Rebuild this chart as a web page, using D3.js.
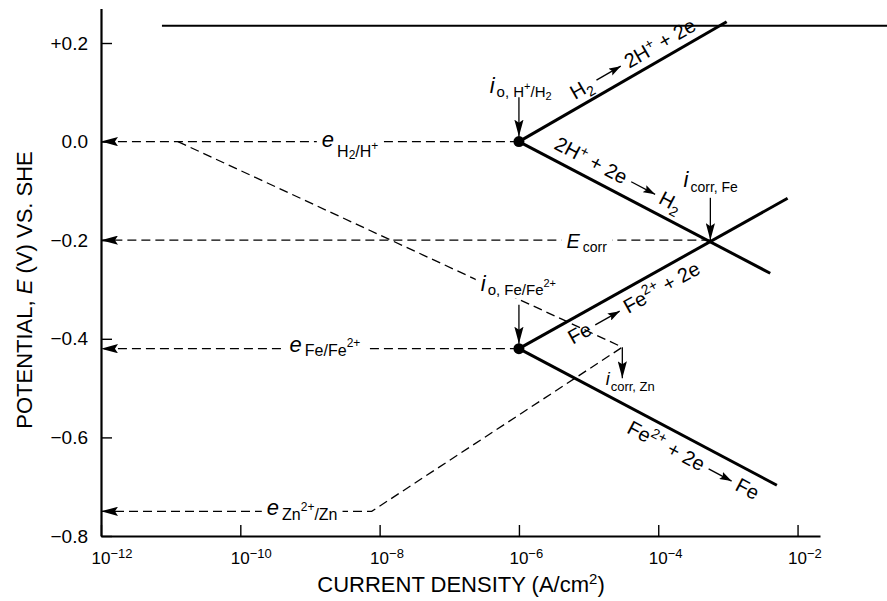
<!DOCTYPE html>
<html>
<head>
<meta charset="utf-8">
<script src="https://cdn.jsdelivr.net/npm/d3@7"></script>
<style>
  html, body { margin: 0; padding: 0; background: #fff; }
  svg { display: block; font-family: "Liberation Sans", Arial, Helvetica, sans-serif; }
  text { white-space: pre; }
</style>
</head>
<body>
<svg id="chart" width="887" height="601"></svg>
<script>
// ---- axis ticks ----
const currentTicks = [1e-12, 1e-10, 1e-8, 1e-6, 1e-4, 1e-2];
const currentTickExponents = ["\u221212", "\u221210", "\u22128", "\u22126", "\u22124", "\u22122"];
const potentialTicks = [0.2, 0.0, -0.2, -0.4, -0.6, -0.8];
const potentialTickLabels = ["+0.2", "0.0", "\u22120.2", "\u22120.4", "\u22120.6", "\u22120.8"];

// ---- Tafel lines on iron: [current density (A/cm²), potential (V vs SHE)] ----
const h2OxidationOnFe = [[1e-6, 0.0], [9.6e-4, 0.243]];
const hReductionOnFe  = [[1e-6, 0.0], [4.05e-3, -0.267]];
const feOxidation     = [[1e-6, -0.42], [7.2e-3, -0.115]];
const feReduction     = [[1e-6, -0.42], [5.05e-3, -0.697]];

// ---- dashed construction lines for zinc ----
const hReductionOnZn = [[1.27e-11, 0.0], [3.05e-5, -0.417]];
const znOxidation    = [[1e-12, -0.75], [7.7e-9, -0.75], [3.05e-5, -0.417]];

// exchange current densities (dots)
const exchangePoints = [[1e-6, 0.0], [1e-6, -0.42]];

// potentials carried back to the axis: [current where the level starts, potential]
const potentialLevels = [[1e-6, 0.0], [5.6e-4, -0.2], [1e-6, -0.42]];

// rule across the top of the figure
const topRule = [[7.5e-12, 0.235], [0.25, 0.235]];

// ---- scales ----
const x = d3.scaleLog().domain([1e-12, 2.1e-2]).range([101, 820]);
const y = d3.scaleLinear().domain([-0.8, 0.27]).range([536, 8.5]);
const FONT = '"Liberation Sans", Arial, Helvetica, sans-serif';

const svg = d3.select("#chart");
const defs = svg.append("defs");

function addMarker(id, len, half) {
  defs.append("marker")
    .attr("id", id)
    .attr("viewBox", `0 ${-half} ${len} ${2 * half}`)
    .attr("refX", len).attr("refY", 0)
    .attr("markerWidth", len).attr("markerHeight", 2 * half)
    .attr("markerUnits", "userSpaceOnUse")
    .attr("orient", "auto-start-reverse")
    .append("path")
    .attr("d", `M0,${-half}L${len},0L0,${half}L${len * 0.18},0Z`)
    .attr("fill", "#000");
}
addMarker("head", 17, 4.6);
addMarker("headSmall", 12, 4);

// text built from pieces: t = text, s = size, b = baseline shift, i = italic, dx = gap before
function rich(sel, parts) {
  const t = sel.append("text").attr("fill", "#000");
  let prev = 0;
  parts.forEach(p => {
    const b = p.b || 0;
    const ts = t.append("tspan").text(p.t).style("font-size", p.s + "px").attr("dy", b - prev);
    if (p.i) ts.style("font-style", "italic");
    if (p.dx) ts.attr("dx", p.dx);
    prev = b;
  });
  return t;
}

const line = d3.line().x(d => x(d[0])).y(d => y(d[1]));

// ---- top rule ----
svg.append("path").attr("d", line(topRule)).attr("stroke", "#000").attr("stroke-width", 2).attr("fill", "none");

// ---- axes ----
const gx = svg.append("g")
  .attr("transform", `translate(0,${y(-0.8)})`)
  .call(d3.axisBottom(x).tickValues(currentTicks).tickSize(-11).tickSizeOuter(0).tickFormat(""))
  .attr("font-family", FONT);
gx.select(".domain").attr("stroke-width", 2.2);
gx.selectAll(".tick line").attr("stroke-width", 1.4);
gx.selectAll(".tick text").remove();
gx.selectAll(".tick").each(function (d, i) {
  const t = d3.select(this).append("text")
    .attr("x", -10).attr("y", 28).attr("fill", "#000").attr("text-anchor", "start");
  t.append("tspan").style("font-size", "17px").text("10");
  t.append("tspan").attr("dy", -6).style("font-size", "13px").text(currentTickExponents[i]);
});

const gy = svg.append("g")
  .attr("transform", `translate(${x(1e-12)},0)`)
  .call(d3.axisLeft(y).tickValues(potentialTicks).tickSize(-11).tickSizeOuter(0).tickPadding(13)
    .tickFormat((d, i) => potentialTickLabels[i]))
  .attr("font-family", FONT).attr("font-size", 19);
gy.select(".domain").attr("stroke-width", 2.2);
gy.selectAll(".tick line").attr("stroke-width", 1.4);
gy.selectAll(".tick text").attr("fill", "#000");

// axis titles
const xt = svg.append("text").attr("x", 461).attr("y", 592).attr("text-anchor", "middle")
  .style("font-size", "22px").attr("fill", "#000");
xt.append("tspan").text("CURRENT DENSITY (A/cm");
xt.append("tspan").attr("dy", -8).style("font-size", "15px").text("2");
xt.append("tspan").attr("dy", 8).text(")");

const yt = svg.append("text").attr("transform", "translate(32,290) rotate(-90)")
  .attr("text-anchor", "middle").style("font-size", "22px").attr("fill", "#000");
yt.append("tspan").text("POTENTIAL, ");
yt.append("tspan").style("font-style", "italic").text("E");
yt.append("tspan").text(" (V) VS. SHE");

// ---- dashed lines ----
const dashed = sel => sel.attr("fill", "none").attr("stroke", "#000").attr("stroke-width", 1.3).attr("stroke-dasharray", "9,5");

potentialLevels.forEach(([i0, E]) => {
  svg.append("path").attr("d", line([[i0, E], [1e-12, E]])).call(dashed).attr("marker-end", "url(#head)");
});
svg.append("path").attr("d", line(znOxidation)).call(dashed).attr("marker-start", "url(#head)");
svg.append("path").attr("d", line(hReductionOnZn)).call(dashed);

// ---- labels on the dashed lines (with white backing) ----
const levelLabels = [
  { at: 1.48e-9, E: 0.0, dy: 5.5, parts: [{ t: "e", s: 22, i: 1 }, { t: "H", s: 16, b: 10, dx: 3 }, { t: "2", s: 12, b: 12 }, { t: "/H", s: 16, b: 10 }, { t: "+", s: 12, b: 3 }] },
  { at: 4.8e-6, E: -0.2, dy: 8, parts: [{ t: "E", s: 20, i: 1 }, { t: "corr", s: 14, b: 4, dx: 3 }] },
  { at: 5.1e-10, E: -0.42, dy: 3, parts: [{ t: "e", s: 22, i: 1 }, { t: "Fe/Fe", s: 16, b: 4, dx: 3 }, { t: "2+", s: 12, b: -5 }] },
  { at: 2.4e-10, E: -0.75, dy: 4, parts: [{ t: "e", s: 22, i: 1 }, { t: "Zn", s: 16, b: 5, dx: 3 }, { t: "2+", s: 12, b: -4 }, { t: "/Zn", s: 16, b: 5 }] }
];
const pointerLabels = [
  { at: 3.8e-7, E: 0.099, bg: true, parts: [{ t: "i", s: 22, i: 1 }, { t: "o, H", s: 15, b: 4, dx: 2 }, { t: "+", s: 11, b: -3 }, { t: "/H", s: 15, b: 4 }, { t: "2", s: 11, b: 7 }] },
  { at: 2.31e-4, E: -0.092, bg: true, parts: [{ t: "i", s: 22, i: 1 }, { t: "corr, Fe", s: 14, b: 5, dx: 2 }] },
  { at: 2.83e-7, E: -0.304, bg: true, parts: [{ t: "i", s: 22, i: 1 }, { t: "o, Fe/Fe", s: 15, b: 4, dx: 2 }, { t: "2+", s: 11, b: -4 }] },
  { at: 1.76e-5, E: -0.494, bg: false, parts: [{ t: "i", s: 18, i: 1 }, { t: "corr, Zn", s: 13, b: 6, dx: 1 }] }
];
// vertical pointers: current, start potential, end potential, gap left before the point
const pointers = [
  { at: 1e-6, from: 0.09, to: 0.0, gap: 5 },
  { at: 5.6e-4, from: -0.114, to: -0.2, gap: 0 },
  { at: 1e-6, from: -0.331, to: -0.42, gap: 5 },
  { at: 3.05e-5, from: -0.417, to: -0.48, gap: 0 }
];

const bgLayer = svg.append("g");
const solidLayer = svg.append("g");
const textLayer = svg.append("g");

function placeLabel(d, withBg) {
  const t = rich(textLayer, d.parts).attr("x", x(d.at)).attr("y", y(d.E) + (d.dy || 0));
  if (withBg) {
    const bb = t.node().getBBox();
    bgLayer.append("rect").attr("x", bb.x - 5).attr("y", bb.y + 2).attr("width", bb.width + 10)
      .attr("height", bb.height - 2).attr("fill", "#fff");
  }
}
levelLabels.forEach(d => placeLabel(d, true));
pointerLabels.forEach(d => placeLabel(d, d.bg));

// ---- solid Tafel lines ----
[h2OxidationOnFe, hReductionOnFe, feOxidation, feReduction].forEach(s => {
  solidLayer.append("path").attr("d", line(s)).attr("fill", "none")
    .attr("stroke", "#000").attr("stroke-width", 3).attr("stroke-linecap", "butt");
});
solidLayer.selectAll("circle").data(exchangePoints).join("circle")
  .attr("cx", d => x(d[0])).attr("cy", d => y(d[1])).attr("r", 5.5).attr("fill", "#000");

pointers.forEach(p => {
  solidLayer.append("line")
    .attr("x1", x(p.at)).attr("y1", y(p.from))
    .attr("x2", x(p.at)).attr("y2", y(p.to) - p.gap)
    .attr("stroke", "#000").attr("stroke-width", 1.3).attr("marker-end", "url(#head)");
});

// ---- reaction labels along the Tafel lines ----
const reactionLabels = [
  { line: h2OxidationOnFe, at: 7.3e-6, offset: -8, segments: [
    { parts: [{ t: "H", s: 20 }, { t: "2", s: 14, b: 5 }] }, { arrow: 28 },
    { parts: [{ t: "2H", s: 20 }, { t: "+", s: 14, b: -7 }, { t: " + 2e", s: 20 }] } ] },
  { line: hReductionOnFe, at: 2.65e-6, offset: -10, segments: [
    { parts: [{ t: "2H", s: 20 }, { t: "+", s: 14, b: -7 }, { t: " + 2e", s: 20 }] }, { arrow: 27 },
    { parts: [{ t: "H", s: 20 }, { t: "2", s: 14, b: 5 }] } ] },
  { line: feOxidation, at: 4.1e-6, offset: 23, segments: [
    { parts: [{ t: "Fe", s: 20 }] }, { arrow: 28 },
    { parts: [{ t: "Fe", s: 20 }, { t: "2+", s: 14, b: -8 }, { t: " + 2e", s: 20 }] } ] },
  { line: feReduction, at: 4.95e-5, offset: 24, segments: [
    { parts: [{ t: "Fe", s: 20 }, { t: "2+", s: 14, b: -8 }, { t: " + 2e", s: 20 }] }, { arrow: 26 },
    { parts: [{ t: "Fe", s: 20 }] } ] }
];

reactionLabels.forEach(d => {
  const [p0, p1] = d.line;
  const ang = Math.atan2(y(p1[1]) - y(p0[1]), x(p1[0]) - x(p0[0])) * 180 / Math.PI;
  const f = (x(d.at) - x(p0[0])) / (x(p1[0]) - x(p0[0]));
  const E = p0[1] + f * (p1[1] - p0[1]);
  const g = textLayer.append("g").attr("transform", `translate(${x(d.at)},${y(E)}) rotate(${ang})`);
  let cx = 0;
  d.segments.forEach(seg => {
    if (seg.arrow) {
      cx += 6;
      g.append("line").attr("x1", cx).attr("y1", d.offset - 6.5).attr("x2", cx + seg.arrow).attr("y2", d.offset - 6.5)
        .attr("stroke", "#000").attr("stroke-width", 1.3).attr("marker-end", "url(#headSmall)");
      cx += seg.arrow + 6;
    } else {
      const t = rich(g, seg.parts).attr("x", cx).attr("y", d.offset);
      const bb = t.node().getBBox();
      cx = bb.x + bb.width;
    }
  });
});
</script>
</body>
</html>
